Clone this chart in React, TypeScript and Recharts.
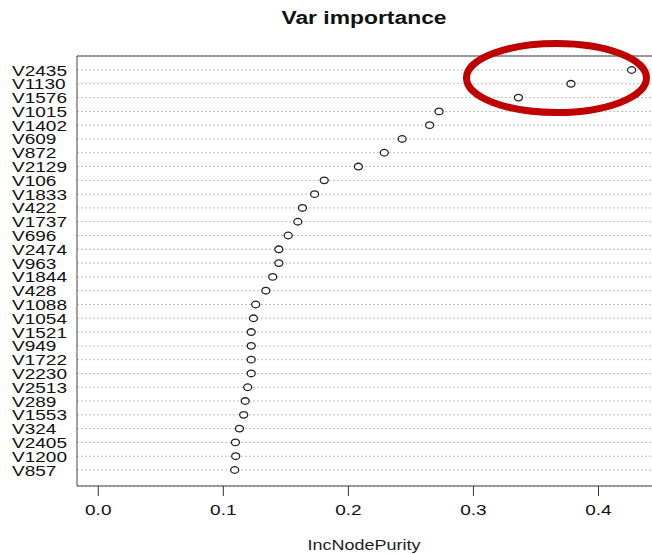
import { ScatterChart, Scatter, XAxis, YAxis, CartesianGrid, ReferenceArea, ReferenceDot } from "recharts";

// variable names, top to bottom
const variables = [
  "V2435", "V1130", "V1576", "V1015", "V1402", "V609", "V872", "V2129", "V106", "V1833",
  "V422", "V1737", "V696", "V2474", "V963", "V1844", "V428", "V1088", "V1054", "V1521",
  "V949", "V1722", "V2230", "V2513", "V289", "V1553", "V324", "V2405", "V1200", "V857",
];

// IncNodePurity per variable
const purity = [
  0.4265, 0.378, 0.336, 0.2725, 0.265, 0.243, 0.2287, 0.208, 0.1807, 0.173,
  0.1633, 0.1596, 0.1519, 0.1444, 0.1444, 0.1395, 0.134, 0.1259, 0.1241, 0.1223,
  0.1223, 0.1223, 0.1223, 0.1195, 0.1175, 0.1163, 0.1129, 0.1097, 0.1099, 0.1091,
];

const xTicks = [0, 0.1, 0.2, 0.3, 0.4];
const xDomain: [number, number] = [-0.017, 0.4436];
const yDomain: [number, number] = [-1.015, 30.16];

// highlight ring around the top three
const highlight = { x: 0.3664, y: 0.58 };

const font = "'Liberation Sans', Arial, sans-serif";
const stretch = 1.27;

const rows = variables.map((name, i) => ({ name, idx: i, value: purity[i] }));

function NameTick(props: any) {
  const { y, payload } = props;
  return (
    <text
      transform={`translate(12, ${y + 5.5}) scale(${stretch}, 1)`}
      fontSize={15}
      fontFamily={font}
      fill="#111"
    >
      {variables[payload.value]}
    </text>
  );
}

function ValueTick(props: any) {
  const { x, y, payload } = props;
  return (
    <text
      transform={`translate(${x}, ${y + 17}) scale(${stretch}, 1)`}
      textAnchor="middle"
      fontSize={15}
      fontFamily={font}
      fill="#111"
    >
      {payload.value.toFixed(1)}
    </text>
  );
}

function OpenDot(props: any) {
  const { cx, cy } = props;
  return <ellipse cx={cx} cy={cy} rx={4} ry={3.3} fill="#fff" stroke="#222" strokeWidth={1.3} />;
}

function Ring(props: any) {
  const { cx, cy } = props;
  return <ellipse cx={cx} cy={cy} rx={90} ry={34.5} fill="none" stroke="#c00000" strokeWidth={7} />;
}

export default function App() {
  return (
    <div style={{ position: "absolute", left: 0, top: 0, width: 652, height: 554, background: "#fff", overflow: "hidden" }}>
      <div
        style={{
          position: "absolute",
          left: 0,
          width: 728,
          top: 8,
          textAlign: "center",
          fontFamily: font,
          fontWeight: "bold",
          fontSize: 18,
          color: "#111",
          transform: `scaleX(${stretch})`,
          transformOrigin: "364px 0",
        }}
      >
        Var importance
      </div>
      <ScatterChart width={654} height={554} margin={{ top: 56, right: 1, bottom: 0, left: 0 }}>
        <CartesianGrid horizontal vertical={false} stroke="#bbb" strokeDasharray="2 2" />
        <XAxis
          type="number"
          dataKey="value"
          domain={xDomain}
          allowDataOverflow
          ticks={xTicks}
          interval={0}
          height={68}
          axisLine={false}
          tickSize={10}
          tickLine={{ stroke: "#333" }}
          tick={<ValueTick />}
        />
        <YAxis
          type="number"
          dataKey="idx"
          reversed
          domain={yDomain}
          allowDataOverflow
          ticks={variables.map((_, i) => i)}
          interval={0}
          width={77}
          axisLine={false}
          tickLine={false}
          tick={<NameTick />}
        />
        <ReferenceArea
          x1={xDomain[0]}
          x2={xDomain[1]}
          y1={yDomain[0]}
          y2={yDomain[1]}
          fill="none"
          fillOpacity={0}
          stroke="#444"
          strokeWidth={1}
          strokeOpacity={1}
          ifOverflow="visible"
        />
        <Scatter data={rows} shape={<OpenDot />} isAnimationActive={false} />
        <ReferenceDot x={highlight.x} y={highlight.y} ifOverflow="visible" shape={<Ring />} />
      </ScatterChart>
      <div
        style={{
          position: "absolute",
          left: 0,
          width: 728,
          top: 536,
          textAlign: "center",
          fontFamily: font,
          fontSize: 15,
          color: "#222",
          transform: `scaleX(1.2)`,
          transformOrigin: "364px 0",
        }}
      >
        IncNodePurity
      </div>
    </div>
  );
}
